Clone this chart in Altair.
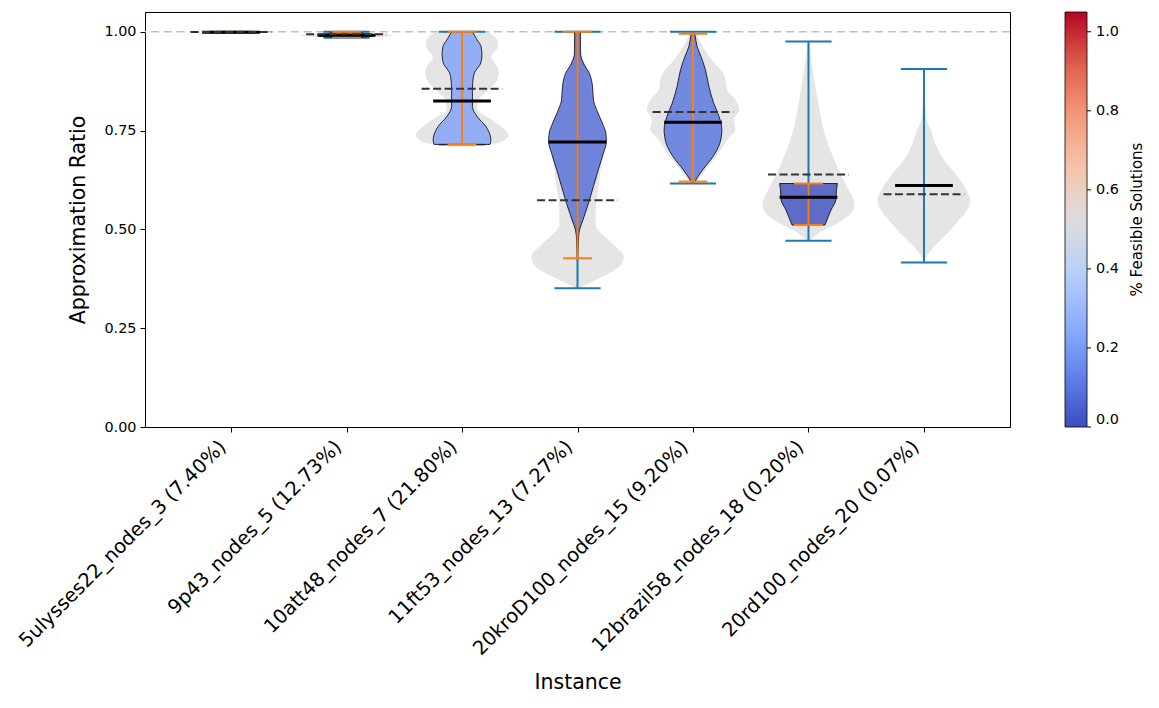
import json
import altair as alt
import pandas as pd

# ---- data -------------------------------------------------------------
instances = [
    "5ulysses22_nodes_3", "9p43_nodes_5", "10att48_nodes_7", "11ft53_nodes_13",
    "20kroD100_nodes_15", "12brazil58_nodes_18", "20rd100_nodes_20",
]
feasible_pct = [7.40, 12.73, 21.80, 7.27, 9.20, 0.20, 0.07]

# extremes of all samples / feasible samples
all_min = [0.998, 0.985, 0.715, 0.351, 0.616, 0.471, 0.416]
all_max = [1.000, 1.000, 1.000, 1.000, 1.000, 0.9755, 0.9055]
feas_min = [0.998, 0.986, 0.715, 0.427, 0.621, 0.511, None]
feas_max = [1.000, 1.000, 1.000, 1.000, 0.995, 0.616, None]

# means: feasible samples (solid) and all samples (dashed)
feas_mean = [0.999, 0.991, 0.825, 0.721, 0.771, 0.581, 0.611]
all_mean = [0.9993, 0.994, 0.856, 0.574, 0.797, 0.639, 0.589]

# violin outlines of all samples: ratio levels and relative half-widths
all_levels = [
    [0.998, 0.999, 1.000],
    [0.985, 0.990, 0.995, 1.000],
    [0.714, 0.722, 0.739, 0.752, 0.777, 0.803, 0.828, 0.853, 0.878, 0.899,
     0.916, 0.937, 0.962, 0.980, 1.000],
    [0.351, 0.359, 0.380, 0.406, 0.431, 0.456, 0.482, 0.507, 0.524, 0.566,
     0.610, 0.650, 0.720, 0.770, 0.820, 0.860, 0.900, 0.950, 1.000],
    [0.616, 0.625, 0.651, 0.676, 0.701, 0.727, 0.752, 0.777, 0.803, 0.828,
     0.853, 0.887, 0.929, 0.971, 1.000],
    [0.471, 0.478, 0.494, 0.511, 0.537, 0.562, 0.600, 0.638, 0.676, 0.727,
     0.777, 0.828, 0.878, 0.929, 0.9755],
    [0.416, 0.428, 0.448, 0.473, 0.499, 0.524, 0.549, 0.575, 0.600, 0.638,
     0.676, 0.714, 0.752, 0.777, 0.828, 0.9055],
]
all_widths = [
    [0.60, 1.00, 0.60],
    [0.30, 1.00, 0.70, 0.40],
    [0.54, 0.87, 1.00, 0.93, 0.65, 0.33, 0.37, 0.57, 0.76, 0.80,
     0.74, 0.63, 0.78, 0.76, 0.55],
    [0.05, 0.17, 0.54, 0.91, 1.00, 0.83, 0.59, 0.40, 0.39, 0.40,
     0.46, 0.50, 0.58, 0.50, 0.33, 0.28, 0.22, 0.09, 0.07],
    [0.04, 0.11, 0.28, 0.45, 0.60, 0.74, 0.92, 0.89, 1.00, 0.92,
     0.74, 0.69, 0.41, 0.17, 0.07],
    [0.02, 0.09, 0.27, 0.56, 0.89, 1.00, 0.87, 0.70, 0.56, 0.39,
     0.28, 0.20, 0.13, 0.06, 0.02],
    [0.00, 0.04, 0.16, 0.36, 0.58, 0.76, 0.94, 1.00, 0.92, 0.70,
     0.43, 0.26, 0.15, 0.06, 0.02, 0.00],
]

# violin outlines of feasible samples
feas_levels = [
    [0.998, 0.999, 1.000],
    [0.986, 0.991, 0.996, 1.000],
    [0.715, 0.727, 0.739, 0.760, 0.786, 0.811, 0.853, 0.878, 0.896, 0.921,
     0.942, 0.963, 0.980, 1.000],
    [0.427, 0.473, 0.499, 0.524, 0.566, 0.608, 0.651, 0.693, 0.722, 0.744,
     0.769, 0.803, 0.828, 0.862, 0.895, 0.921, 0.946, 0.997, 1.000],
    [0.621, 0.630, 0.651, 0.684, 0.718, 0.752, 0.786, 0.819, 0.862, 0.904,
     0.937, 0.963, 0.992, 0.995],
    [0.511, 0.524, 0.549, 0.575, 0.600, 0.616],
    [],
]
feas_widths = [
    [0.60, 1.00, 0.60],
    [0.40, 1.00, 0.60, 0.40],
    [0.97, 1.00, 0.97, 0.83, 0.52, 0.36, 0.36, 0.38, 0.43, 0.65,
     0.69, 0.66, 0.52, 0.36],
    [0.01, 0.03, 0.07, 0.19, 0.38, 0.55, 0.72, 0.90, 1.00, 0.98,
     0.86, 0.66, 0.55, 0.52, 0.41, 0.20, 0.10, 0.10, 0.10],
    [0.07, 0.14, 0.34, 0.69, 0.93, 1.00, 0.90, 0.72, 0.55, 0.43,
     0.28, 0.14, 0.07, 0.06],
    [0.57, 0.64, 0.78, 0.95, 0.97, 1.00],
    [],
]

tick_labels = [f"{n} ({p:.2f}%)" for n, p in zip(instances, feasible_pct)]

# colour bar ticks
cbar_ticks = [0.0, 0.2, 0.4, 0.6, 0.8, 1.0]

# coolwarm colour map stops
cw_colors = ["#3b4cc0", "#6282ea", "#8db0fe", "#b8d0f9", "#dddddd",
             "#f5c4ac", "#f49a7b", "#dd604c", "#b40426"]
cw_max = 1.05
cw_domain = [cw_max * i / 8 for i in range(9)]

# ---- tables -------------------------------------------------------------
def outline_rows(levels, widths):
    rows = []
    for i, (ys, ws) in enumerate(zip(levels, widths)):
        for y, w in zip(ys, ws):
            rows.append({"inst": instances[i], "pos": i + 1, "ratio": y,
                         "w": w, "pct": feasible_pct[i] / 100})
    return pd.DataFrame(rows)

all_shape = outline_rows(all_levels, all_widths)
feas_shape = outline_rows(feas_levels, feas_widths)

stats = pd.DataFrame({
    "inst": instances, "pos": list(range(1, 8)),
    "all_min": all_min, "all_max": all_max,
    "feas_min": feas_min, "feas_max": feas_max,
    "feas_mean": feas_mean, "all_mean": all_mean,
})
feas_stats = stats.dropna(subset=["feas_min"])

# ---- scales / axes --------------------------------------------------------
FONT = "DejaVu Sans"
xscale = alt.Scale(domain=[0.255, 7.745], nice=False, zero=False)
yscale = alt.Scale(domain=[0, 1.05], nice=False)   # also the colour bar's range

label_expr = f"{json.dumps(tick_labels)}[datum.value - 1]"
xaxis = alt.Axis(values=list(range(1, 8)), labelExpr=label_expr, title="Instance",
                 labelAngle=-45, labelAlign="right", labelBaseline="top",
                 labelFontSize=19.5, labelPadding=5, labelOffset=-15,
                 labelOverlap=False, labelFlush=False, labelBound=False,
                 labelLimit=0, titleFontSize=20.5, titleY=255,
                 titleBaseline="middle", grid=False, tickSize=5)
yaxis = alt.Axis(values=[0, 0.25, 0.5, 0.75, 1.0], format=".2f",
                 title="Approximation Ratio", labelFontSize=14.4, labelPadding=4,
                 titleFontSize=20.5, titleX=-67, titleBaseline="middle",
                 grid=False, tickSize=5)


def X(field):
    return alt.X(field, type="quantitative", scale=xscale, axis=xaxis)


def Y(field):
    return alt.Y(field, type="quantitative", scale=yscale, axis=yaxis)


# ---- layers --------------------------------------------------------------
ref_line = alt.Chart(pd.DataFrame({"ratio": [1.0]})).mark_rule(
    color="#bfbfbf", strokeWidth=1.6, strokeDash=[8, 4.7]
).encode(y=Y("ratio"))

all_violin = alt.Chart(all_shape).transform_calculate(
    xl="datum.pos - 0.4 * datum.w", xr="datum.pos + 0.4 * datum.w"
).mark_area(orient="horizontal", interpolate="monotone",
            color="#d3d3d3", opacity=0.6).encode(
    y=Y("ratio"), x=X("xl"), x2="xr:Q", detail="inst:N"
)

blue_stem = alt.Chart(stats).mark_rule(color="#1f77b4", strokeWidth=2).encode(
    x=X("pos"), y=Y("all_min"), y2="all_max:Q"
)
blue_caps = alt.Chart(stats).transform_fold(
    ["all_min", "all_max"], as_=["which", "ratio"]
).transform_calculate(
    xl="datum.pos - 0.2", xr="datum.pos + 0.2"
).mark_rule(color="#1f77b4", strokeWidth=2).encode(
    x=X("xl"), x2="xr:Q", y=Y("ratio")
)

feas_violin = alt.Chart(feas_shape).transform_calculate(
    xl="datum.pos - 0.25 * datum.w", xr="datum.pos + 0.25 * datum.w"
).mark_area(orient="horizontal", interpolate="monotone", fillOpacity=0.8,
            stroke="black", strokeWidth=0.8).encode(
    y=Y("ratio"), x=X("xl"), x2="xr:Q", detail="inst:N",
    fill=alt.Fill(
        "pct:Q",
        scale=alt.Scale(domain=cw_domain, range=cw_colors, interpolate="rgb"),
        legend=alt.Legend(
            orient="none", legendX=920, legendY=0, direction="vertical",
            gradientLength=415, gradientThickness=22,
            gradientStrokeColor="black", gradientStrokeWidth=0.8,
            values=cbar_ticks, format=".1f",
            labelFontSize=14.4, labelOffset=9, labelFont=FONT,
            labelColor="black", title=None,
        ),
    ),
)

orange_stem = alt.Chart(feas_stats).mark_rule(color="#ff7f0e", strokeWidth=2).encode(
    x=X("pos"), y=Y("feas_min"), y2="feas_max:Q"
)
orange_caps = alt.Chart(feas_stats).transform_fold(
    ["feas_min", "feas_max"], as_=["which", "ratio"]
).transform_calculate(
    xl="datum.pos - 0.125", xr="datum.pos + 0.125"
).mark_rule(color="#ff7f0e", strokeWidth=2).encode(
    x=X("xl"), x2="xr:Q", y=Y("ratio")
)

feas_mean_line = alt.Chart(stats).transform_calculate(
    xl="datum.pos - 0.25", xr="datum.pos + 0.25"
).mark_rule(color="black", strokeWidth=3).encode(
    x=X("xl"), x2="xr:Q", y=Y("feas_mean")
)
all_mean_line = alt.Chart(stats).transform_calculate(
    xl="datum.pos - 0.35", xr="datum.pos + 0.35"
).mark_rule(color="#333333", strokeWidth=2, strokeDash=[8, 3.5]).encode(
    x=X("xl"), x2="xr:Q", y=Y("all_mean")
)

# small outward ticks on the right edge of the colour bar
cbar_tick_marks = alt.Chart(pd.DataFrame({"v": cbar_ticks})).mark_rule(
    color="black", strokeWidth=1
).encode(y=Y("v"), x=alt.value(942), x2=alt.value(946))

cbar_title = alt.Chart(pd.DataFrame({"t": ["% Feasible Solutions"]})).mark_text(
    angle=270, fontSize=15, font=FONT, color="black", align="center",
    baseline="middle"
).encode(text="t:N", x=alt.value(992), y=alt.value(207.5))

chart = alt.layer(
    ref_line, all_violin, blue_stem, blue_caps, feas_violin,
    orange_stem, orange_caps, feas_mean_line, all_mean_line,
    cbar_tick_marks, cbar_title,
).properties(
    width=865, height=415,
    padding={"left": 145, "top": 12, "right": 149, "bottom": 281},
    autosize=alt.AutoSizeParams(type="none"),
).configure(
    background="white", font=FONT
).configure_view(
    stroke="black", strokeWidth=1
).configure_axis(
    domainColor="black", tickColor="black", labelColor="black",
    titleColor="black", labelFont=FONT, titleFont=FONT, titleFontWeight="normal",
    domainWidth=1, tickWidth=1,
)

chart.save("out.html", embed_options={"renderer": "svg", "actions": False})
